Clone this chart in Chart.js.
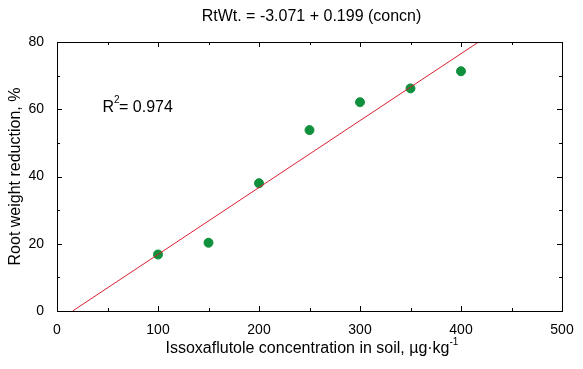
<!DOCTYPE html>
<html>
<head>
<meta charset="utf-8">
<script src="https://cdn.jsdelivr.net/npm/chart.js@4"></script>
<style>
  html, body { margin: 0; padding: 0; background: #fff; }
  #wrap { width: 583px; height: 369px; }
</style>
</head>
<body>
<div id="wrap"><canvas id="rootChart" width="583" height="369"></canvas></div>
<script>
// данные
var concn = [100, 150, 200, 250, 300, 350, 400];
var rootReduction = [16.8, 20.3, 38.0, 53.8, 62.1, 66.2, 71.3];
var xTicks = [0, 100, 200, 300, 400, 500];
var yTicks = [0, 20, 40, 60, 80];
var fit = [-3.071, 0.199]; // intercept, slope
var titleText = 'RtWt. = -3.071 + 0.199 (concn)';
var r2Text = '0.974';

var FONT = '"Liberation Sans", Arial, sans-serif';

// линия регрессии от y=0 до y=80
var fitLine = [
    { x: (0 - fit[0]) / fit[1], y: 0 },
    { x: (80 - fit[0]) / fit[1], y: 80 }
];

var framePlugin = {
    id: 'frame',
    afterDraw: function (chart) {
        var c = chart.ctx, a = chart.chartArea;
        var xs = chart.scales.x, ys = chart.scales.y;
        c.save();
        c.strokeStyle = '#000';
        c.lineWidth = 1;
        c.strokeRect(a.left + 0.5, a.top + 0.5, a.right - a.left, a.bottom - a.top);
        c.beginPath();
        // засечки по x (внутрь), основные и промежуточные
        for (var v = 0; v <= 500; v += 50) {
            var px = Math.round(xs.getPixelForValue(v)) + 0.5;
            var len = v % 100 === 0 ? 5 : 3;
            c.moveTo(px, a.bottom); c.lineTo(px, a.bottom - len);
            c.moveTo(px, a.top); c.lineTo(px, a.top + len);
        }
        for (var w = 0; w <= 80; w += 10) {
            var py = Math.round(ys.getPixelForValue(w)) + 0.5;
            var l2 = w % 20 === 0 ? 5 : 3;
            c.moveTo(a.left, py); c.lineTo(a.left + l2, py);
            c.moveTo(a.right, py); c.lineTo(a.right - l2, py);
        }
        c.stroke();

        c.fillStyle = '#000';
        // заголовок
        c.font = '16px ' + FONT;
        c.textAlign = 'center';
        c.textBaseline = 'middle';
        c.fillText(titleText, (a.left + a.right) / 2 + 2, 17);
        // подписи осей
        var xLab = 'Issoxaflutole concentration in soil, \u00b5g\u00b7kg';
        var wMain = c.measureText(xLab).width;
        var cx = (a.left + a.right) / 2 - 2;
        c.fillText(xLab, cx, 349);
        c.font = '10px ' + FONT;
        c.textAlign = 'left';
        c.fillText('-1', cx + wMain / 2, 342);
        c.font = '16px ' + FONT;
        c.save();
        c.translate(16, (a.top + a.bottom) / 2);
        c.rotate(-Math.PI / 2);
        c.textAlign = 'center';
        c.fillText('Root weight reduction, %', 0, 0);
        c.restore();
        // R²
        var rx = xs.getPixelForValue(45);
        var ry = ys.getPixelForValue(60.5);
        c.textAlign = 'left';
        c.fillText('R', rx, ry);
        var wR = c.measureText('R').width;
        c.font = '10px ' + FONT;
        c.fillText('2', rx + wR, ry - 7);
        c.font = '16px ' + FONT;
        c.fillText('= ' + r2Text, rx + wR + 5, ry);
        c.restore();
    }
};

var ctx = document.getElementById('rootChart').getContext('2d');
var myChart = new Chart(ctx, {
    type: 'scatter',
    data: {
        datasets: [{
            label: 'fit',
            type: 'line',
            data: fitLine,
            borderColor: '#d92030',
            borderWidth: 1,
            pointRadius: 0,
            fill: false
        }, {
            label: 'RtWt',
            data: concn.map(function (x, i) { return { x: x, y: rootReduction[i] }; }),
            backgroundColor: '#10903c',
            borderColor: '#10903c',
            pointRadius: 4.5,
            pointHoverRadius: 4.5
        }]
    },
    options: {
        responsive: false,
        animation: false,
        events: [],
        layout: { padding: { top: 42, right: 21, left: 0, bottom: 0 } },
        plugins: { legend: { display: false }, tooltip: { enabled: false } },
        scales: {
            x: {
                type: 'linear',
                min: 0, max: 500,
                afterBuildTicks: function (s) { s.ticks = xTicks.map(function (v) { return { value: v }; }); },
                afterFit: function (s) { s.height = 58; },
                grid: { display: false },
                border: { display: false },
                ticks: { color: '#000', font: { family: FONT, size: 14 }, padding: 3, maxRotation: 0 }
            },
            y: {
                min: 0, max: 80,
                afterBuildTicks: function (s) { s.ticks = yTicks.map(function (v) { return { value: v }; }); },
                afterFit: function (s) { s.width = 57; },
                grid: { display: false },
                border: { display: false },
                ticks: { color: '#000', font: { family: FONT, size: 14 }, padding: 5 }
            }
        }
    },
    plugins: [framePlugin]
});
</script>
</body>
</html>
